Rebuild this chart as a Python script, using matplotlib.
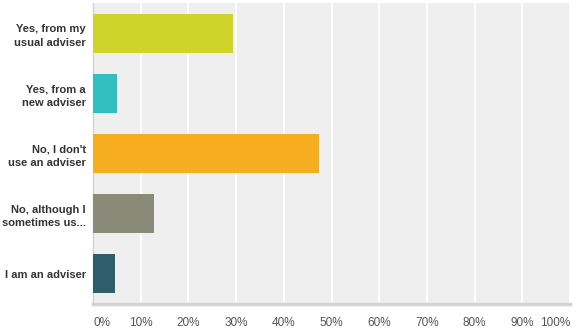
import matplotlib
matplotlib.use('Agg')
from matplotlib import pyplot as plt

labels = ['Yes, from my\nusual adviser', 'Yes, from a\nnew adviser', "No, I don't\nuse an adviser",
          'No, although I\nsometimes us...', 'I am an adviser']
values = [29.3, 5.0, 47.3, 12.8, 4.6]
colors = ['#D0D42A', '#33BFC1', '#F6AE20', '#8A8A79', '#2F5E6A']
ticks = list(range(0, 101, 10))
tick_labels = [f'{t}%' for t in ticks]

plt.rcParams['font.family'] = ['Liberation Sans', 'DejaVu Sans']

fig = plt.figure(figsize=(5.77, 3.30), dpi=100)
ax = fig.add_axes([93 / 577, 26 / 330, 477 / 577, 301 / 330])
ax.set_facecolor('#EFEFEF')

ypos = range(len(labels))
ax.barh(ypos, values, height=0.65, color=colors, zorder=3)
ax.set_ylim(len(labels) - 0.5, -0.5)
ax.set_xlim(0, 100)

ax.set_xticks(ticks)
ax.set_xticklabels(tick_labels, color='#555555', fontsize=8.5)
ax.get_xticklabels()[0].set_horizontalalignment('left')
ax.get_xticklabels()[-1].set_horizontalalignment('right')
ax.set_yticks(list(ypos))
ax.set_yticklabels(labels, fontsize=8, fontweight='bold', color='#333333', linespacing=1.45)
ax.tick_params(axis='x', length=0, pad=9)
ax.tick_params(axis='y', length=0, pad=5)

ax.grid(axis='x', color='white', linewidth=1.3, zorder=1)
for s in ['top', 'right']:
    ax.spines[s].set_visible(False)
ax.spines['bottom'].set_color('#D3D3D3')
ax.spines['bottom'].set_linewidth(2.5)
ax.spines['left'].set_color('#D3D3D3')
ax.spines['left'].set_linewidth(1)

fig.savefig('out.png', dpi=100, facecolor='white')
